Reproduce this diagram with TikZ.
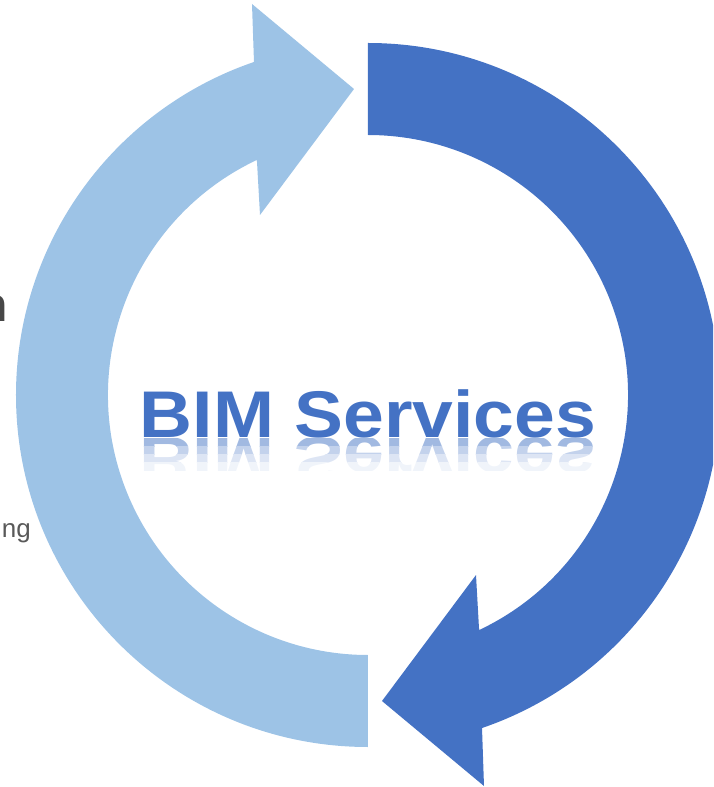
\documentclass[tikz,border=0pt]{standalone}
\usepackage{fontspec}
\setmainfont{Liberation Sans}

\begin{document}
\begin{tikzpicture}[x=1pt,y=1pt,
  bimtext/.style={font=\bfseries\fontsize{66}{70}\selectfont,xscale=1.11,inner sep=0pt,anchor=base}]
\definecolor{skyblue}{HTML}{9DC3E6}
\definecolor{royalblue}{HTML}{4472C4}
\definecolor{textgrey}{HTML}{595959}
\useasboundingbox (-368,-392) rectangle (345,395);
\clip (-368,-392) rectangle (345,395);
% left arrow, light
\fill[skyblue] (0,-352) arc[start angle=270,end angle=108.9,radius=352]
  -- (-116,391) -- (-14,306) -- (-108,180) -- (115.3:260)
  arc[start angle=115.3,end angle=270,radius=260] -- cycle;
% right arrow, dark
\fill[royalblue] (0,352) arc[start angle=90,end angle=-71.1,radius=352]
  -- (116,-391) -- (14,-306) -- (108,-180) -- (-64.7:260)
  arc[start angle=-64.7,end angle=90,radius=260] -- cycle;
\node[bimtext,text=royalblue] (title) at (0,-42) {BIM Services};
  \foreach \band/\shd in {0/50,8/32,16/18,24/8}
  { \begin{scope}
    \clip (-250,-43-\band) rectangle (250,-51-\band);
    \node[bimtext,yscale=-1,text=royalblue!\shd] (mirror\band) at (0,-42) {BIM Services};
    \end{scope}}
% cut-off texts at the left edge
\node[font=\bfseries\fontsize{48}{50}\selectfont,text=textgrey!80!black,anchor=base east,inner sep=0pt] (cutn) at (-360,73) {n};
\node[font=\fontsize{26}{28}\selectfont,text=textgrey,anchor=base east,inner sep=0pt] (cutng) at (-337,-142) {ng};
\end{tikzpicture}
\end{document}
